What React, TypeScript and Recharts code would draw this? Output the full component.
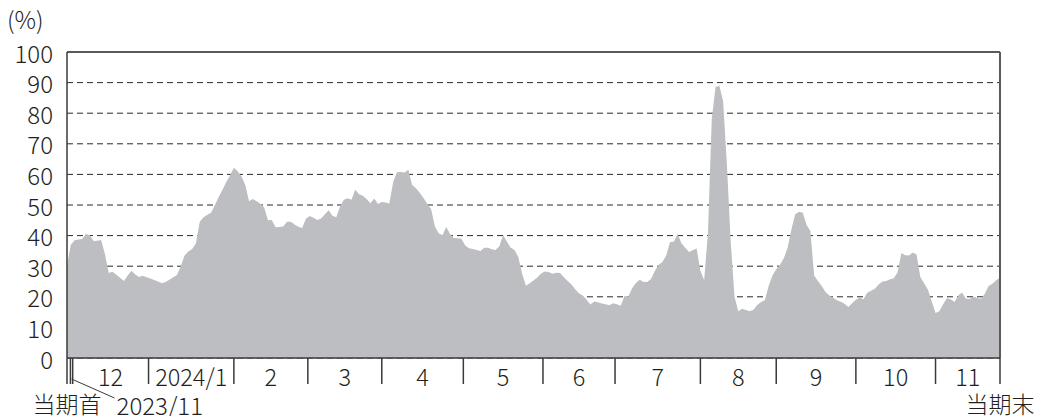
import React from "react";
import {
  AreaChart,
  Area,
  XAxis,
  YAxis,
  CartesianGrid,
  ReferenceLine,
} from "recharts";

// Daily values (%) from the start of the period (当期首) to its end (当期末)
const values: number[] = [
  30.2, 37, 38.5, 38.7, 38.9, 40.5, 40.2, 38.2, 38.3, 38.6,
  34, 27.8, 28.2, 27.2, 26.2, 25.2, 27, 28.5, 27.3, 26.5,
  26.9, 26.4, 26, 25.5, 25, 24.4, 24.8, 25.6, 26.4, 27.1,
  30, 33.5, 34.8, 35.6, 37.5, 44.5, 46, 46.8, 47.5, 50,
  52.6, 55, 57.5, 59.7, 62.2, 61, 59.3, 56.5, 51.2, 52,
  51.2, 50.4, 49.2, 45, 45.1, 42.7, 42.8, 43, 44.5, 44.5,
  43.6, 42.9, 42.5, 45.5, 46.4, 45.8, 45.1, 45.6, 47, 48.3,
  46.5, 46, 49.5, 51.7, 52.2, 51.7, 55, 53.5, 53, 52,
  50.6, 52.1, 50.3, 51, 50.8, 50.5, 57.5, 60.7, 60.8, 60.6,
  61.5, 56.5, 55.5, 54, 52.3, 50.3, 48.7, 43, 40.8, 40.1,
  42.8, 40.5, 39.2, 39.1, 39, 36.8, 35.9, 35.6, 35.3, 35,
  36, 36, 35.5, 35.3, 36.5, 40.2, 38, 36, 35.3, 33,
  27.5, 23.6, 24.4, 25.3, 26.3, 27.6, 28.3, 28.1, 27.5, 27.9,
  27.8, 26.4, 25.2, 24, 22.5, 21.1, 20.4, 19, 17.5, 18.5,
  18.2, 17.8, 17.6, 17.2, 17.9, 17.6, 17.1, 20.3, 20.1, 22.8,
  24.5, 25.6, 24.8, 24.8, 25.8, 28.5, 30.5, 31.4, 33.5, 37.9,
  38, 40.5, 37.5, 36, 34.6, 35.2, 35.8, 28.5, 25.5, 41,
  78, 88.6, 89, 84, 63, 38, 20, 15.3, 16.1, 15.7,
  15.3, 15.8, 17.3, 18.3, 18.9, 23.5, 27, 29, 30.5, 32.6,
  36, 42, 47, 47.8, 47.5, 43.5, 41.5, 27, 25.2, 23.5,
  21.6, 20.4, 19.7, 18.9, 18.4, 17.7, 16.7, 17.9, 19, 19.7,
  19.2, 21.3, 22, 22.6, 24, 25, 25.2, 25.7, 26.1, 28,
  34.3, 33.6, 33.5, 34.5, 33.8, 26.5, 24.4, 22.3, 18.5, 14.7,
  15.3, 17.6, 19.5, 19.2, 18.3, 20.4, 21.4, 19.4, 19.3, 20,
  19.6, 19.4, 21, 23.5, 24.3, 25.4, 26.2,
];

// Month separators, in trading-day index units
const boundaries: number[] = [
  0, 0.9, 1.5, 21.5, 44, 63.5, 83, 104.5, 125.5, 144.5, 167, 187, 208, 229, 246,
];
const monthLabels: string[] = [
  "12", "2024/1", "2", "3", "4", "5", "6", "7", "8", "9", "10", "11",
];
const yTicks: number[] = [0, 10, 20, 30, 40, 50, 60, 70, 80, 90, 100];
const startLabel = "当期首";
const endLabel = "当期末";
const firstMonthLabel = "2023/11";

const lastIndex = values.length - 1;
const data = values.map((v, i) => ({ d: i, v }));
const mids: number[] = monthLabels.map(
  (_, k) => (boundaries[k + 2] + boundaries[k + 3]) / 2
);
const firstMid = (boundaries[1] + boundaries[2]) / 2;
const xTicks: number[] = [...boundaries, firstMid, ...mids];

const FONT = '"Noto Sans CJK JP", "Noto Sans", sans-serif';
const INK = "#231f20";
const W = 300;

function XTick(props: any) {
  const { x, y, payload } = props;
  const v = payload.value;
  const bi = boundaries.indexOf(v);
  if (bi >= 0) {
    return (
      <g>
        <line x1={x} x2={x} y1={y} y2={y + 26} stroke="#3a3a3a" strokeWidth={1.5} />
        {bi === 0 && (
          <text x={x} y={y + 45} textAnchor="middle" fontSize={23} fill={INK} fontFamily={FONT}
            fontWeight={W} dominantBaseline="central">
            {startLabel}
          </text>
        )}
        {bi === boundaries.length - 1 && (
          <text x={x} y={y + 45} textAnchor="middle" fontSize={23} fill={INK} fontFamily={FONT}
            fontWeight={W} dominantBaseline="central">
            {endLabel}
          </text>
        )}
      </g>
    );
  }
  if (v === firstMid) {
    return (
      <g>
        <line x1={x} x2={x + 43} y1={y + 21} y2={y + 40} stroke="#3a3a3a" strokeWidth={1} />
        <text x={x + 45} y={y + 46} textAnchor="start" fontSize={24} fill={INK} fontFamily={FONT}
          fontWeight={W} dominantBaseline="central">
          {firstMonthLabel}
        </text>
      </g>
    );
  }
  const mi = mids.indexOf(v);
  if (mi >= 0) {
    return (
      <text x={x} y={y + 18} textAnchor="middle" fontSize={23.5} fill={INK} fontFamily={FONT}
        fontWeight={W} dominantBaseline="central">
        {monthLabels[mi]}
      </text>
    );
  }
  return null;
}

function YTick(props: any) {
  const { x, y, payload } = props;
  return (
    <text x={x - 14} y={y} textAnchor="end" fontSize={24} fill={INK} fontFamily={FONT}
      fontWeight={W} dominantBaseline="central">
      {payload.value}
    </text>
  );
}

export default function App() {
  return (
    <div style={{ position: "absolute", left: 0, top: 0, width: 1037, height: 416, background: "#fff" }}>
      <div
        style={{
          position: "absolute",
          left: 7,
          top: 4,
          fontSize: 24,
          fontFamily: FONT,
          fontWeight: W,
          color: INK,
          lineHeight: "30px",
        }}
      >
        (%)
      </div>
      <AreaChart
        width={1037}
        height={416}
        data={data}
        margin={{ top: 52, right: 37, bottom: 0, left: 0 }}
      >
        <CartesianGrid
          vertical={false}
          stroke="#2a2a2a"
          strokeWidth={1}
          strokeDasharray="6 4"
        />
        <XAxis
          dataKey="d"
          type="number"
          domain={[0, lastIndex]}
          ticks={xTicks}
          interval={0}
          tick={<XTick />}
          tickLine={false}
          tickSize={0}
          tickMargin={0}
          height={58}
          axisLine={{ stroke: "#3a3a3a", strokeWidth: 1.5 }}
          allowDecimals
        />
        <YAxis
          type="number"
          domain={[0, 100]}
          ticks={yTicks}
          interval={0}
          width={67}
          tick={<YTick />}
          tickLine={false}
          tickSize={0}
          tickMargin={0}
          axisLine={{ stroke: "#3a3a3a", strokeWidth: 1.5 }}
        />
        <Area
          type="linear"
          dataKey="v"
          stroke="none"
          fill="#bdbec1"
          fillOpacity={1}
          dot={false}
          activeDot={false}
          isAnimationActive={false}
        />
        <ReferenceLine y={100} stroke="#5a5a5a" strokeWidth={2} />
        <ReferenceLine x={lastIndex} stroke="#5a5a5a" strokeWidth={2} />
      </AreaChart>
    </div>
  );
}
